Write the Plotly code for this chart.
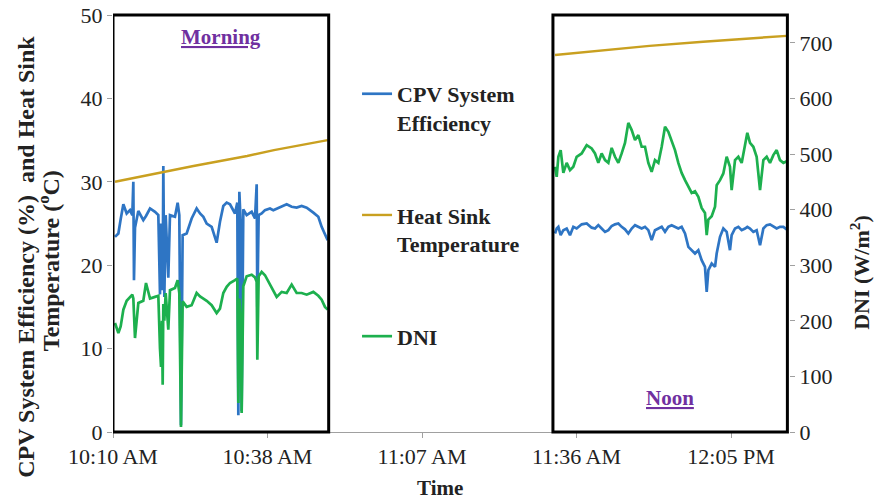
import pandas as pd
import plotly.graph_objects as go

# ---------------- data ----------------
start_time = "2019-01-01 10:10:00"

# session windows (minutes after 10:10 AM)
morning_window = [0.0, 40.2]
noon_window = [82.0, 125.7]

# morning samples (minutes after 10:10 AM)
morning_t = [0.37, 1.0, 1.43, 1.93, 2.55, 3.17, 3.60, 3.79, 3.91, 4.10, 4.72, 5.65, 6.15, 6.90,
             7.83, 8.45, 8.76, 8.95, 9.13, 9.26, 9.38, 9.57, 9.82, 10.31, 10.62, 11.55, 12.05,
             12.36, 12.67, 12.98, 13.73, 14.66, 15.59, 16.22, 16.84, 17.46, 18.39, 19.32, 19.94,
             20.56, 21.19, 21.81, 22.74, 23.17, 23.36, 23.55, 23.80, 23.98, 24.29, 24.91, 25.85,
             26.47, 26.78, 26.90, 27.15, 27.71, 28.33, 29.26, 29.88, 30.51, 31.44, 32.37, 33.30,
             34.23, 35.16, 36.10, 37.34, 38.27, 38.89, 39.51, 40.01]
morning_eff = [23.4, 23.8, 25.5, 27.3, 26.2, 26.6, 26.0, 30.0, 18.2, 24.5, 26.5, 25.4, 25.9, 26.8,
               26.4, 26.0, 16.5, 25.0, 17.0, 18.0, 31.9, 16.2, 26.0, 18.5, 26.0, 25.8, 27.5,
               26.0, 0.8, 23.6, 23.8, 25.6, 26.8, 26.2, 25.8, 25.0, 24.6, 22.7, 25.2,
               27.1, 27.5, 27.3, 26.2, 27.5, 2.0, 28.8, 25.0, 2.5, 26.7, 26.0, 26.4,
               25.6, 29.7, 15.0, 26.0, 26.2, 26.6, 26.8, 26.6, 26.8, 27.1, 27.3, 27.0,
               26.9, 27.1, 26.9, 26.3, 25.8, 24.6, 23.6, 23.0]
morning_dni = [196, 178, 190, 220, 236, 243, 247, 240, 200, 169, 232, 236, 268, 240,
               243, 245, 150, 117, 200, 85, 230, 200, 250, 184, 255, 259, 273,
               250, 9, 235, 225, 228, 250, 244, 240, 236, 228, 214, 222,
               250, 261, 268, 273, 276, 52, 240, 200, 34, 262, 280, 283,
               278, 270, 130, 280, 288, 282, 265, 256, 243, 252, 250, 265,
               250, 250, 247, 252, 245, 238, 225, 220]
morning_hs_t = [0.37, 5, 10, 15, 20, 25, 30, 35, 40.01]
morning_hs = [30.0, 30.6, 31.3, 31.9, 32.5, 33.1, 33.8, 34.4, 35.0]

# noon samples (minutes after 10:10 AM)
noon_t = [82.39, 82.70, 83.01, 83.44, 83.94, 84.56, 85.18, 85.80, 86.42, 87.36, 88.29, 89.22,
          89.84, 90.46, 91.08, 91.71, 92.33, 92.95, 93.57, 94.19, 94.81, 95.43, 96.05, 96.68,
          97.30, 97.92, 98.54, 99.16, 99.78, 100.40, 101.02, 101.65, 102.27, 102.89, 103.51,
          104.13, 104.75, 105.37, 105.99, 106.62, 107.24, 107.86, 108.48, 109.10, 109.72,
          110.34, 110.66, 110.97, 111.59, 112.21, 112.52, 113.14, 113.76, 114.38, 115.00,
          115.31, 115.94, 116.56, 117.18, 117.80, 118.23, 118.73, 119.35, 119.97, 120.60,
          121.22, 121.84, 122.46, 123.08, 123.70, 124.32, 124.95, 125.57]
noon_eff = [23.8, 24.4, 24.6, 23.6, 24.2, 24.4, 23.6, 24.6, 24.4, 24.9, 25.0, 24.5,
            24.4, 24.8, 24.4, 24.0, 24.2, 24.7, 24.9, 25.0, 24.6, 24.3, 23.8, 24.4,
            24.8, 24.6, 24.4, 24.6, 24.2, 23.0, 24.2, 24.4, 24.6, 24.0, 24.6,
            24.8, 24.6, 24.4, 24.6, 23.8, 22.2, 21.8, 21.4, 21.8, 20.6,
            19.8, 16.8, 19.4, 20.2, 19.8, 21.4, 23.4, 24.4, 24.0, 21.8,
            23.6, 24.4, 24.6, 24.2, 24.4, 24.6, 24.4, 24.0, 24.2, 22.4,
            24.4, 24.8, 24.9, 24.6, 24.4, 24.6, 24.6, 24.3]
noon_dni = [477, 459, 495, 507, 466, 484, 471, 477, 495, 501, 516, 510,
            501, 484, 501, 489, 484, 511, 495, 484, 501, 520, 556, 543,
            525, 534, 513, 513, 484, 468, 489, 484, 513, 549, 540,
            525, 507, 484, 466, 453, 441, 430, 433, 423, 403,
            394, 354, 382, 388, 405, 444, 453, 465, 495, 477,
            435, 489, 495, 484, 520, 538, 520, 513, 495, 435,
            489, 495, 484, 498, 507, 489, 484, 487]
noon_hs_t = [82.39, 90, 100, 110, 120, 125.57]
noon_hs = [45.2, 45.7, 46.3, 46.8, 47.2, 47.5]

tick_minutes = [0, 28.8, 57.6, 86.4, 115.2]
tick_labels = ["10:10 AM", "10:38 AM", "11:07 AM", "11:36 AM", "12:05 PM"]
axis_end_minutes = 126.0

# ---------------- build ----------------
base = pd.Timestamp(start_time)


def to_time(mins):
    return list(base + pd.to_timedelta(mins, unit="m"))


x_main = to_time(morning_t) + [None] + to_time(noon_t)
eff = morning_eff + [None] + noon_eff
dni = morning_dni + [None] + noon_dni
x_hs = to_time(morning_hs_t) + [None] + to_time(noon_hs_t)
hs = morning_hs + [None] + noon_hs

FONT = "Liberation Serif, Times New Roman, serif"
TXT = "#222222"

fig = go.Figure()
fig.add_trace(go.Scatter(x=x_main, y=eff, mode="lines", name="<b>CPV System<br>Efficiency</b>",
                         line=dict(color="#2E75C4", width=2.7), legendgroup="a",
                         connectgaps=False))
fig.add_trace(go.Scatter(x=x_hs, y=hs, mode="lines", name="<b>Heat Sink<br>Temperature</b>",
                         line=dict(color="#C9A020", width=2.4), legendgroup="b",
                         connectgaps=False))
fig.add_trace(go.Scatter(x=x_main, y=dni, mode="lines", name="<b>DNI</b>", yaxis="y2",
                         line=dict(color="#1DB04E", width=2.7), legendgroup="c",
                         connectgaps=False))

m0, m1 = to_time(morning_window)
n0, n1 = to_time(noon_window)
for a, b in [(m0, m1), (n0, n1)]:
    fig.add_shape(type="rect", xref="x", yref="paper", x0=a, x1=b, y0=0, y1=1,
                  line=dict(color="black", width=3), fillcolor="rgba(0,0,0,0)")

fig.add_annotation(x=m0 + (m1 - m0) / 2, y=0.947, xref="x", yref="paper",
                   text="<b><u>Morning</u></b>", showarrow=False, yanchor="middle",
                   font=dict(family=FONT, size=21, color="#7030A0"))
fig.add_annotation(x=n0 + (n1 - n0) / 2, y=0.082, xref="x", yref="paper",
                   text="<b><u>Noon</u></b>", showarrow=False, yanchor="middle",
                   font=dict(family=FONT, size=21, color="#7030A0"))

# axis titles
fig.add_annotation(x=-0.1287, y=0.42, xref="paper", yref="paper", textangle=-90,
                   text="<b>CPV System Efficiency (%)  and Heat Sink</b>", showarrow=False,
                   xanchor="center", yanchor="middle",
                   font=dict(family=FONT, size=24, color=TXT))
fig.add_annotation(x=-0.0947, y=0.412, xref="paper", yref="paper", textangle=-90,
                   text="<b>Temperature (<sup>o</sup>C)</b>", showarrow=False,
                   xanchor="center", yanchor="middle",
                   font=dict(family=FONT, size=24, color=TXT))
fig.add_annotation(x=1.105, y=0.384, xref="paper", yref="paper", textangle=-90,
                   text="<b>DNI (W/m<sup>2</sup>)</b>", showarrow=False,
                   xanchor="center", yanchor="middle",
                   font=dict(family=FONT, size=22, color=TXT))
fig.add_annotation(x=0.484, y=-0.134, xref="paper", yref="paper",
                   text="<b>Time</b>", showarrow=False,
                   xanchor="center", yanchor="middle",
                   font=dict(family=FONT, size=21, color=TXT))

fig.update_layout(
    width=875, height=499,
    margin=dict(l=113, r=86, t=15, b=67, autoexpand=False),
    plot_bgcolor="white", paper_bgcolor="white",
    font=dict(family=FONT, size=22, color=TXT),
    xaxis=dict(range=to_time([0, axis_end_minutes]), tickvals=to_time(tick_minutes),
               ticktext=tick_labels, showgrid=False, zeroline=False, automargin=False,
               showline=True, linecolor="#A0A0A0", linewidth=1,
               ticks="outside", ticklen=5, tickcolor="#A0A0A0",
               ticklabeloverflow="allow"),
    yaxis=dict(range=[0, 50], tickvals=[0, 10, 20, 30, 40, 50], showgrid=False,
               zeroline=False, showline=False, ticks="outside", ticklen=5,
               tickcolor="#A0A0A0", automargin=False, ticklabeloverflow="allow"),
    yaxis2=dict(range=[0, 750], tickvals=[0, 100, 200, 300, 400, 500, 600, 700],
                overlaying="y", side="right", showgrid=False, zeroline=False,
                showline=False, ticks="outside", ticklen=5, tickcolor="#A0A0A0",
                automargin=False, ticklabeloverflow="allow"),
    legend=dict(x=0.361, y=0.861, xanchor="left", yanchor="top", bgcolor="rgba(0,0,0,0)",
                traceorder="grouped", tracegroupgap=61, valign="top",
                font=dict(family=FONT, size=22, color=TXT)),
    showlegend=True,
)

# remove the default page margin so the figure fills the window exactly
fig.write_html("out.html", config={"displayModeBar": False},
               post_script="document.body.style.margin='0';")
